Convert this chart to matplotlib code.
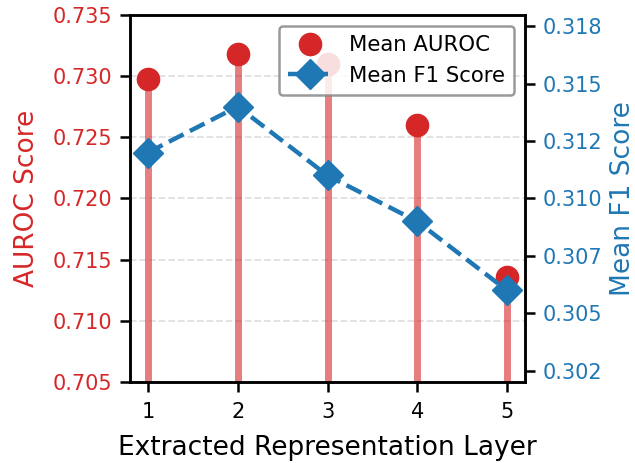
import matplotlib
matplotlib.use('Agg')
import matplotlib.pyplot as plt
from matplotlib.ticker import FixedLocator, FormatStrFormatter

# Data
layers = [1, 2, 3, 4, 5]
mean_auroc = [0.7298, 0.7318, 0.7310, 0.7260, 0.7136]
mean_f1 = [0.3120, 0.3140, 0.3110, 0.3090, 0.3060]
auroc_ticks = [0.705, 0.710, 0.715, 0.720, 0.725, 0.730, 0.735]
f1_ticks = [0.3025, 0.305, 0.3075, 0.31, 0.3125, 0.315, 0.3175]

red = '#d62728'
blue = '#1f77b4'

fig, ax1 = plt.subplots(figsize=(6.35, 4.63), dpi=100)
fig.subplots_adjust(left=0.2047, right=0.8268, top=0.9676, bottom=0.175)

# AUROC as stems with circle heads
ax1.vlines(layers, 0.705, mean_auroc, color=red, alpha=0.6, linewidth=5, zorder=2)
ax1.plot(layers, mean_auroc, 'o', color=red, markersize=16, label='Mean AUROC', zorder=3)
ax1.set_ylim(0.705, 0.735)
ax1.set_xlim(0.8, 5.2)
ax1.yaxis.set_major_locator(FixedLocator(auroc_ticks))
ax1.yaxis.set_major_formatter(FormatStrFormatter('%.3f'))
ax1.set_xticks(layers)
ax1.set_xlabel('Extracted Representation Layer', fontsize=19, labelpad=9)
ax1.set_ylabel('AUROC Score', fontsize=19, color=red, labelpad=9)
ax1.tick_params(axis='y', labelcolor=red, labelsize=15, width=1.8, length=7, pad=5.5)
ax1.tick_params(axis='x', labelsize=15, width=1.8, length=7, pad=7.5)
ax1.grid(axis='y', linestyle='--', color='#cccccc', alpha=0.6, linewidth=1.3)
ax1.set_axisbelow(True)

# F1 on twin axis
ax2 = ax1.twinx()
ax2.plot(layers, mean_f1, '--D', color=blue, linewidth=3.2, markersize=15,
         label='Mean F1 Score', zorder=4)
ax2.set_ylim(0.30202, 0.31798)
ax2.yaxis.set_major_locator(FixedLocator(f1_ticks))
ax2.yaxis.set_major_formatter(FormatStrFormatter('%.3f'))
ax2.set_ylabel('Mean F1 Score', fontsize=19, color=blue, labelpad=6)
ax2.tick_params(axis='y', labelcolor=blue, labelsize=15, width=1.8, length=7, pad=5.5)

for ax in (ax1, ax2):
    for s in ax.spines.values():
        s.set_linewidth(1.8)

h1, l1 = ax1.get_legend_handles_labels()
h2, l2 = ax2.get_legend_handles_labels()
leg = ax2.legend(h1 + h2, l1 + l2, loc='upper right', fontsize=15.3, framealpha=0.85,
                 fancybox=True, borderpad=0.45, handletextpad=0.85)
leg.get_frame().set_edgecolor('#888888')
leg.get_frame().set_linewidth(1.8)

fig.savefig('out.png', dpi=100)
